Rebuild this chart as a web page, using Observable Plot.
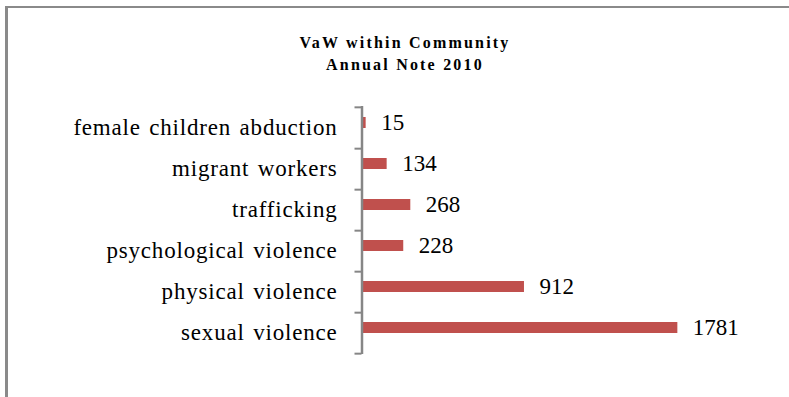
<!DOCTYPE html>
<html><head><meta charset="utf-8">
<script src="https://cdn.jsdelivr.net/npm/d3@7"></script>
<script src="https://cdn.jsdelivr.net/npm/@observablehq/plot@0.6"></script>
<style>
body{margin:0;background:#fff;}
#wrap{position:relative;width:789px;height:397px;overflow:hidden;font-family:"Liberation Serif","Times New Roman",Times,"DejaVu Serif","Noto Serif",serif;}
#frame{position:absolute;left:5px;top:6px;right:-10px;bottom:-10px;border-left:3px solid #8a8a8a;border-top:2px solid #8a8a8a;}
#title{position:absolute;left:0;width:810px;top:32px;text-align:center;font-weight:bold;font-size:16px;line-height:22px;letter-spacing:2.2px;color:#000;}
#chart{position:absolute;left:0;top:0;}
#chart svg text{font-family:"Liberation Serif","Times New Roman",Times,"DejaVu Serif","Noto Serif",serif;}
#chart svg g[aria-label="y-axis tick label"] text{letter-spacing:0.8px;word-spacing:2px;}
</style></head>
<body><div id="wrap"><div id="frame"></div><div id="title"></div><div id="chart"></div></div>
<script>
const titleLines = ["VaW within Community", "Annual Note 2010"];
const categories = ["female children abduction", "migrant workers", "trafficking", "psychological violence", "physical violence", "sexual violence"];
const values = [15, 134, 268, 228, 912, 1781];

const data = categories.map((c, i) => ({category: c, value: values[i]}));
document.getElementById("title").innerHTML = titleLines.join("<br>");

const W = 789, H = 397, mTop = 106, mBottom = 43, mLeft = 363, mRight = 73;
const step = (H - mTop - mBottom) / categories.length;
const axisColor = "#868686";

const chart = Plot.plot({
  width: W, height: H,
  marginTop: mTop, marginBottom: mBottom, marginLeft: mLeft, marginRight: mRight,
  style: {background: "transparent", color: "#000"},
  x: {domain: [0, 2000], axis: null},
  y: {domain: categories, paddingInner: 0.72, paddingOuter: 0.36, label: null},
  marks: [
    Plot.axisY({tickSize: 0, tickPadding: 26, fontSize: 23, fill: "#000"}),
    Plot.barX(data, {y: "category", x: "value", fill: "#C0504D", dy: -5}),
    Plot.text(data, {y: "category", x: "value", text: d => String(d.value), textAnchor: "start", dx: 15, dy: -5, fontSize: 23, fill: "#000"}),
    Plot.ruleX([0], {stroke: axisColor, strokeWidth: 2.5, dx: -1.5}),
    Plot.ruleY(categories, {y: d => d, dy: step / 2, x1: 0, x2: 0, insetLeft: -7, dx: -1.5, stroke: axisColor, strokeWidth: 2}),
    Plot.ruleY(categories.slice(0, 1), {y: d => d, dy: -step / 2, x1: 0, x2: 0, insetLeft: -7, dx: -1.5, stroke: axisColor, strokeWidth: 2})
  ]
});
document.getElementById("chart").appendChild(chart);
</script>
</body></html>
